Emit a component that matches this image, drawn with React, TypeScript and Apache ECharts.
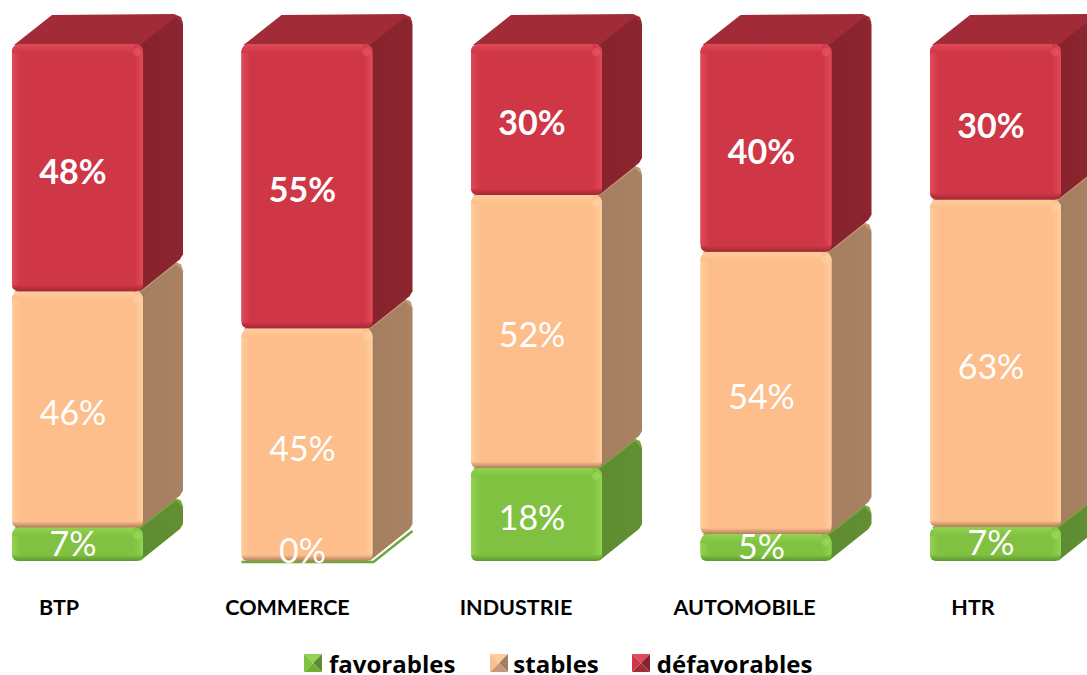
import React, { useEffect, useRef } from "react";
import * as echarts from "echarts";

const categories = ["BTP", "COMMERCE", "INDUSTRIE", "AUTOMOBILE", "HTR"];
const favorables = [6.5, 0, 18, 5.2, 6.6];
const stables = [45.7, 45, 52.8, 54.6, 63.3];
const defavorables = [47.8, 55, 29.2, 40.2, 30.1];
const favorablesLabels = ["7%", "0%", "18%", "5%", "7%"];
const stablesLabels = ["46%", "45%", "52%", "54%", "63%"];
const defavorablesLabels = ["48%", "55%", "30%", "40%", "30%"];

type Palette = {
  front: string; hi: string; spot: string; edge: string; top: string; side: string; sideHi: string;
};
const GREEN: Palette = { front: "#80C142", hi: "#92D44E", spot: "#A6E560", edge: "#5F9632", top: "#74AC38", side: "#5E8C30", sideHi: "#628F33" };
const ORANGE: Palette = { front: "#FDBE8B", hi: "#FFCD9C", spot: "#FFD8AE", edge: "#AD7F5C", top: "#C29A78", side: "#A47E60", sideHi: "#A98263" };
const RED: Palette = { front: "#CF3646", hi: "#E04A59", spot: "#EE6470", edge: "#A02A36", top: "#A12B37", side: "#87232E", sideHi: "#8C2530" };

const BAR_SHIFT = 18.5;
const BAR_STEP_EXTRA = 1;
const HALF = 65.5;
const DX = 40;
const DY = 30;
const LABEL_SHIFT = -4.5;

const grad = (x: number, y: number, x2: number, y2: number, a: string, b: string) =>
  new echarts.graphic.LinearGradient(x, y, x2, y2, [
    { offset: 0, color: a },
    { offset: 1, color: b },
  ]);

function makeRenderItem(p: Palette, labels: string[], bold: boolean) {
  return (params: any, api: any) => {
    const cat = api.value(0);
    const [cxRaw, yb] = api.coord([cat, api.value(1)]);
    const [, yt] = api.coord([cat, api.value(2)]);
    const cx = cxRaw + BAR_SHIFT + cat * BAR_STEP_EXTRA;
    const x0 = cx - HALF;
    const x1 = cx + HALF;
    const h = yb - yt;
    const text = labels[params.dataIndex];
    const mid = (yb + yt) / 2;
    const labelY = h < 2 ? yb - 12 : h < 40 ? mid - 2 : mid + 2.5;
    const labelEl = {
      type: "text",
      z2: 20,
      x: cx + LABEL_SHIFT,
      y: labelY,
      style: {
        text,
        fill: "#FFFFFF",
        align: "center",
        verticalAlign: "middle",
        fontFamily: "Lato",
        fontWeight: bold ? "bold" : "normal",
        fontSize: 34,
      },
    };
    if (h < 2) {
      return {
        type: "group",
        children: [
          {
            type: "polyline",
            shape: { points: [[x0, yb + 1], [x1 + 1, yb + 1], [x1 + DX, yb - DY]] },
            style: { stroke: "#6FA838", lineWidth: 2.5, fill: "none" },
          },
          labelEl,
        ],
      };
    }
    const r = Math.min(8, h / 2);
    const b = Math.min(9, h / 3);
    return {
      type: "group",
      children: [
        {
          type: "polygon",
          shape: {
            points: [
              [x0 + 2, yt + 1], [x0 + DX, yt - DY + 1], [x1 + DX - 9, yt - DY],
              [x1 + DX - 2, yt - DY + 3], [x1 + DX, yt - DY + 9], [x1 + 4, yt + 4],
            ],
          },
          style: { fill: p.top },
        },
        {
          type: "polygon",
          shape: {
            points: [
              [x1 - 4, yt + 2], [x1 + DX - 7, yt - DY + 3], [x1 + DX, yt - DY + 10],
              [x1 + DX, yb - DY - 7], [x1 + DX - 3, yb - DY - 2], [x1 - 3, yb],
            ],
          },
          style: { fill: grad(0, 0, 1, 0, p.side, p.sideHi) },
        },
        {
          type: "rect",
          shape: { x: x0, y: yt, width: x1 - x0, height: h, r },
          style: { fill: p.front },
        },
        {
          type: "rect",
          shape: { x: x0, y: yt, width: b, height: h, r: [r, 0, 0, r] },
          style: { fill: grad(0, 0, 1, 0, p.hi, p.front) },
        },
        {
          type: "rect",
          shape: { x: x0, y: yt, width: x1 - x0, height: b, r: [r, r, 0, 0] },
          style: { fill: grad(0, 0, 0, 1, p.hi, p.front) },
        },
        {
          type: "rect",
          shape: { x: x1 - b, y: yt, width: b, height: h, r: [0, r, r, 0] },
          style: { fill: grad(0, 0, 1, 0, p.front, p.hi) },
        },
        {
          type: "rect",
          shape: { x: x0, y: yb - b / 1.5, width: x1 - x0, height: b / 1.5, r: [0, 0, r, r] },
          style: { fill: grad(0, 0, 0, 1, p.front, p.edge) },
        },
        {
          type: "circle",
          shape: { cx: x1 - 6, cy: yt + 8, r: Math.min(4, h / 5) },
          style: { fill: p.spot, opacity: 0.45 },
        },
        labelEl,
      ],
    };
  };
}

function buildData(base: number[][], values: number[]) {
  return values.map((v, i) => [i, base[i][0], base[i][0] + v]);
}

function bevelIcon(x: number, y: number, s: number, p: Palette) {
  const c = [x + s / 2, y + s / 2];
  const tri = (a: number[], b: number[], fill: string) => ({
    type: "polygon",
    z: 100,
    shape: { points: [a, b, c] },
    style: { fill },
  });
  const tl = [x, y];
  const tr = [x + s, y];
  const br = [x + s, y + s];
  const bl = [x, y + s];
  return [
    tri(tl, tr, p.hi),
    tri(tr, br, p.side),
    tri(br, bl, p.top),
    tri(bl, tl, p.front),
  ];
}

export default function App() {
  const ref = useRef<HTMLDivElement>(null);
  useEffect(() => {
    if (!ref.current) return;
    const chart = echarts.init(ref.current, undefined, { renderer: "svg" });
    const zero = categories.map(() => [0]);
    const greenData = buildData(zero, favorables);
    const orangeData = buildData(greenData.map((d) => [d[2]]), stables);
    const redData = buildData(orangeData.map((d) => [d[2]]), defavorables);
    const custom = (name: string, p: Palette, labels: string[], data: number[][], bold: boolean) => ({
      name,
      type: "custom",
      clip: false,
      itemStyle: { color: p.front },
      encode: { x: 0, y: [1, 2] },
      renderItem: makeRenderItem(p, labels, bold),
      data,
    });
    chart.setOption({
      animation: false,
      backgroundColor: "#FFFFFF",
      grid: { left: -55.25, top: 44, width: 1142.5, height: 517, containLabel: false, outerBoundsMode: "none" },
      xAxis: {
        type: "category",
        data: categories,
        axisLine: { show: false },
        axisTick: { show: false },
        axisLabel: {
          margin: 35,
          fontFamily: "Lato",
          fontWeight: "bold",
          fontSize: 21.5,
          color: "#000000",
        },
      },
      yAxis: { type: "value", min: 0, max: 100, show: false },
      legend: {
        left: 304,
        top: 646,
        padding: 0,
        itemGap: 33,
        itemWidth: 18,
        itemHeight: 18,
        icon: "rect",
        itemStyle: { color: "transparent" },
        selectedMode: false,
        textStyle: {
          fontFamily: "Open Sans",
          fontWeight: "bold",
          fontSize: 24,
          lineHeight: 20,
          color: "#000000",
          padding: [0, 0, 14, 2],
        },
        data: ["favorables", "stables", "défavorables"],
      },
      graphic: [
        ...bevelIcon(304, 654, 18, GREEN),
        ...bevelIcon(490, 654, 18, ORANGE),
        ...bevelIcon(632, 654, 18, RED),
      ],
      series: [
        custom("favorables", GREEN, favorablesLabels, greenData, false),
        custom("stables", ORANGE, stablesLabels, orangeData, false),
        custom("défavorables", RED, defavorablesLabels, redData, true),
      ],
    });
    return () => chart.dispose();
  }, []);
  return <div ref={ref} style={{ position: "fixed", left: 0, top: 0, width: 1087, height: 675 }} />;
}
